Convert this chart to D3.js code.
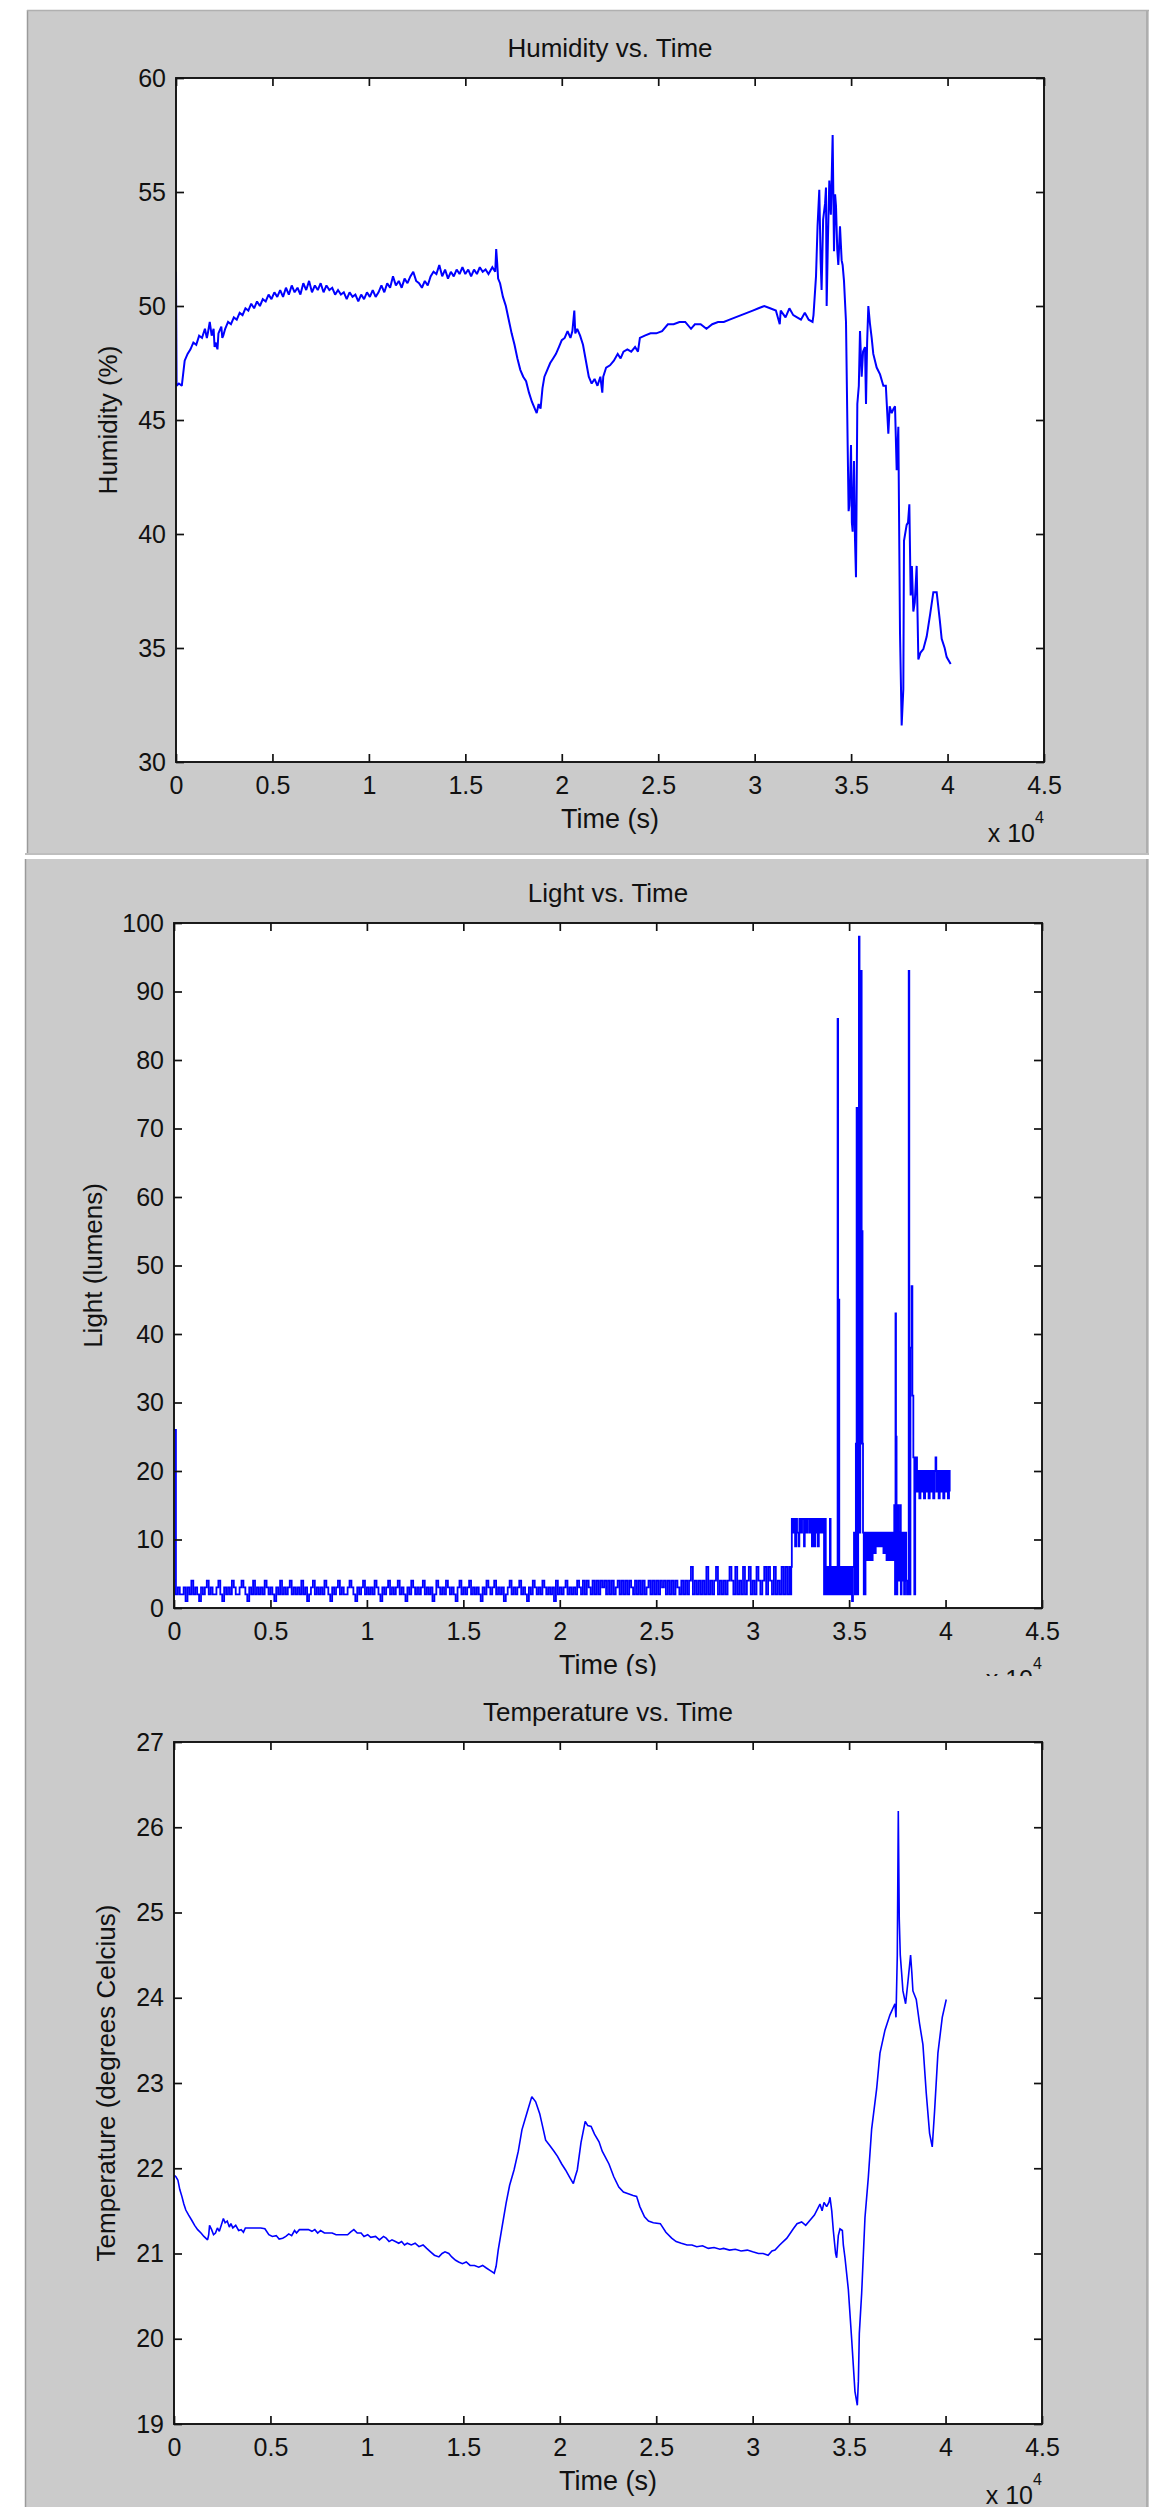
<!DOCTYPE html>
<html><head><meta charset="utf-8">
<script src="https://cdn.jsdelivr.net/npm/d3@7"></script>
<style>body{margin:0;background:#fff;} svg{display:block;}</style>
</head><body>
<svg id="c" width="1149" height="2507"></svg>
<script>
// ---------------- DATA ----------------
const xTickValues = [0,5000,10000,15000,20000,25000,30000,35000,40000,45000];
const xTickLabels = ["0","0.5","1","1.5","2","2.5","3","3.5","4","4.5"];
const humidityTicks = [30,35,40,45,50,55,60];
const lightTicks = [0,10,20,30,40,50,60,70,80,90,100];
const temperatureTicks = [19,20,21,22,23,24,25,26,27];
const titles = ["Humidity vs. Time","Light vs. Time","Temperature vs. Time"];
const yLabels = ["Humidity (%)","Light (lumens)","Temperature (degrees Celcius)"];
const xLabel = "Time (s)";

// humidity [time s, %]
const humidity = [[0,51.5],[30,46.5],[150,46.6],[300,46.5],[450,47.6],[600,47.9],[750,48.1],[900,48.4],[1050,48.3],[1200,48.7],[1350,48.6],[1500,49.0],[1600,48.6],[1650,48.8],[1750,49.3],[1850,48.7],[1950,49.0],[2000,48.2],[2050,48.4],[2150,48.1],[2200,48.8],[2250,48.9],[2350,49.1],[2400,48.6],[2450,48.7],[2550,49.0],[2700,49.3],[2850,49.2],[3000,49.5],[3150,49.4],[3300,49.7],[3450,49.6],[3600,49.9],[3750,49.8],[3900,50.1],[4050,49.9],[4200,50.2],[4350,50.0],[4500,50.3],[4650,50.2],[4800,50.5],[4950,50.3],[5100,50.6],[5250,50.4],[5400,50.7],[5550,50.4],[5700,50.8],[5850,50.5],[6000,50.9],[6150,50.6],[6300,50.8],[6450,50.5],[6600,51.0],[6750,50.7],[6900,51.1],[7050,50.6],[7200,50.9],[7350,50.7],[7500,51.0],[7650,50.6],[7800,50.9],[7950,50.7],[8100,50.8],[8250,50.5],[8400,50.7],[8550,50.5],[8700,50.6],[8850,50.3],[9000,50.6],[9150,50.4],[9300,50.5],[9450,50.2],[9600,50.5],[9750,50.3],[9900,50.6],[10050,50.4],[10200,50.7],[10350,50.4],[10500,50.6],[10650,50.9],[10800,50.6],[10950,51.0],[11100,50.8],[11250,51.3],[11400,50.9],[11550,51.1],[11700,50.8],[11850,51.2],[12000,51.0],[12150,51.3],[12300,51.5],[12450,51.1],[12600,51.0],[12750,50.8],[12900,51.1],[13050,50.9],[13200,51.3],[13350,51.5],[13500,51.4],[13650,51.8],[13800,51.3],[13950,51.6],[14100,51.2],[14250,51.5],[14400,51.3],[14550,51.6],[14700,51.4],[14850,51.7],[15000,51.4],[15150,51.6],[15300,51.3],[15450,51.6],[15600,51.4],[15750,51.7],[15900,51.5],[16050,51.6],[16200,51.4],[16400,51.7],[16550,51.5],[16600,52.5],[16650,51.9],[16700,51.2],[16800,51.0],[16950,50.4],[17100,50.0],[17250,49.4],[17400,48.8],[17550,48.3],[17700,47.7],[17850,47.2],[18000,46.9],[18150,46.7],[18300,46.2],[18450,45.8],[18600,45.5],[18700,45.3],[18800,45.7],[18900,45.5],[19000,46.4],[19100,46.9],[19250,47.2],[19400,47.5],[19550,47.7],[19700,47.9],[19850,48.2],[20000,48.5],[20150,48.6],[20300,48.9],[20450,48.6],[20550,48.9],[20650,49.8],[20700,48.8],[20800,49.0],[20950,48.7],[21100,48.3],[21250,47.6],[21400,46.9],[21550,46.6],[21700,46.8],[21850,46.5],[22000,46.9],[22100,46.2],[22150,46.9],[22300,47.3],[22500,47.4],[22700,47.6],[22900,47.9],[23050,47.7],[23200,48.0],[23400,48.1],[23600,48.0],[23800,48.2],[23950,48.0],[24050,48.6],[24300,48.7],[24600,48.8],[24900,48.8],[25200,48.9],[25500,49.2],[25800,49.2],[26100,49.3],[26400,49.3],[26700,49.0],[26900,49.2],[27200,49.2],[27500,49.0],[27800,49.2],[28100,49.3],[28400,49.3],[28700,49.4],[29000,49.5],[29300,49.6],[29600,49.7],[29900,49.8],[30200,49.9],[30500,50.0],[30800,49.9],[31100,49.8],[31300,49.2],[31350,49.8],[31600,49.5],[31800,49.9],[32000,49.6],[32200,49.5],[32400,49.4],[32600,49.7],[32800,49.4],[33000,49.3],[33050,49.6],[33180,51.3],[33260,53.5],[33350,55.1],[33420,52.0],[33470,50.7],[33550,53.8],[33650,54.5],[33697,55.2],[33732,50.0],[33800,53.0],[33870,55.5],[33950,54.0],[34043,57.5],[34113,52.4],[34170,54.9],[34216,54.4],[34280,52.5],[34337,51.8],[34424,53.5],[34510,52.0],[34560,51.8],[34631,51.1],[34735,49.3],[34821,43.9],[34870,41.0],[34908,41.25],[34950,42.3],[34994,43.9],[35040,40.5],[35080,40.1],[35149,43.2],[35200,39.8],[35253,38.1],[35322,45.7],[35400,46.5],[35461,48.9],[35547,46.9],[35620,48.0],[35720,48.2],[35772,45.7],[35830,48.4],[35893,50.0],[35980,49.2],[36066,48.6],[36150,47.9],[36325,47.3],[36500,47.0],[36671,46.5],[36800,46.5],[36930,44.4],[37000,45.6],[37103,45.3],[37200,45.5],[37276,45.6],[37362,42.8],[37448,44.7],[37535,35.65],[37621,31.6],[37707,33.2],[37742,39.7],[37880,40.4],[37950,40.5],[38019,41.3],[38088,37.3],[38150,38.6],[38226,36.6],[38300,37.0],[38399,38.6],[38486,34.5],[38600,34.8],[38745,34.95],[38918,35.5],[39100,36.5],[39263,37.45],[39436,37.45],[39600,36.2],[39695,35.4],[39850,35.0],[39955,34.6],[40162,34.3]];

// light: early record sampled every lightEarlyStep seconds starting at t = 0
const lightEarlyStep = 100;
const lightEarly = [26,
2,3,2,2,3,1,3,2,4,2, 3,2,1,3,2,3,4,2,3,2, 2,3,4,2,1,3,2,3,2,4, 3,2,2,3,4,3,2,1,3,2,
4,2,3,2,3,2,4,3,2,3, 2,1,3,2,4,2,3,2,3,4, 2,3,2,3,2,4,2,3,1,2, 3,4,2,3,2,3,2,4,3,2,
1,3,2,3,4,2,3,2,2,3, 4,3,2,1,3,2,3,4,2,3, 2,3,2,4,3,2,1,3,2,3, 4,2,3,2,3,4,2,3,2,1,
3,2,4,3,2,3,2,3,4,2, 3,2,3,1,2,4,3,2,3,2, 4,3,2,3,2,1,3,4,2,3, 2,3,4,2,3,2,3,2,1,3,
2,4,3,2,3,4,2,3,2,3, 1,2,3,4,2,3,2,3,4,2, 3,2,1,3,2,4,3,2,3,2, 4,3,2,3,2,3,1,4,2,3,
2,3,4,2,3,2,3,2,4,3,
2,4,2,4,3,2,4,2,4,2, 4,3,4,2,4,2,4,2,3,4, 2,4,2,4,2,4,3,2,4,2, 4,2,4,2,3,4,2,4,2,4,
2,4,3,4,2,4,2,4,2,4, 3,2,4,2,4,
2,4,6,2,4,2,4,2,4,2, 6,2,4,2,4,6,2,4,2,4, 2,4,6,4,2,6,2,4,2,6, 2,4,6,2,4,2,6,4,2,4,
6,2,6,4,2,6,2,4,
2,6,2,6,2,6];
// light: later record [time s, lumens]
const lightLate = [[31950,2],[32000,6],[32030,13],[32100,11],[32180,13],[32200,9],[32260,13],[32300,11],[32380,9],[32420,13],[32500,11],[32560,13],[32660,9],[32700,13],[32760,11],[32850,13],[32950,11],[33020,13],[33070,9],[33130,13],[33180,9],[33250,13],[33300,11],[33340,13],[33380,9],[33430,11],[33470,13],[33550,11],[33620,13],[33680,13],[33700,2],[33760,13],[33790,2],[33850,6],[33900,2],[33960,6],[34004,13],[34040,2],[34100,6],[34165,2],[34230,6],[34300,2],[34350,6],[34403,86],[34430,2],[34460,45],[34490,2],[34550,6],[34620,2],[34700,6],[34780,2],[34850,6],[34920,2],[34990,6],[35060,2],[35120,6],[35150,1],[35200,6],[35253,11],[35300,2],[35350,24],[35390,73],[35430,2],[35470,55],[35508,98],[35540,11],[35580,24],[35617,93],[35650,55],[35695,24],[35720,11],[35760,2],[35800,2],[35850,11],[35900,7],[35960,11],[36020,7],[36080,11],[36150,7],[36220,11],[36300,8],[36380,11],[36460,9],[36540,11],[36620,9],[36700,11],[36780,8],[36860,11],[36940,7],[37020,11],[37100,7],[37180,11],[37250,7],[37300,11],[37340,15],[37380,2],[37405,43],[37430,25],[37460,2],[37500,15],[37540,4],[37600,11],[37635,15],[37680,2],[37720,11],[37760,4],[37800,11],[37850,2],[37900,11],[37960,4],[38000,2],[38090,93],[38120,2],[38180,38],[38240,47],[38280,31],[38330,22],[38380,2],[38427,20],[38470,22],[38520,17],[38580,20],[38640,16],[38700,20],[38760,17],[38820,20],[38880,16],[38940,20],[39000,17],[39060,20],[39120,16],[39180,20],[39240,17],[39300,20],[39360,16],[39420,20],[39480,22],[39520,17],[39580,20],[39640,16],[39700,20],[39760,17],[39820,20],[39880,16],[39940,20],[40000,17],[40060,20],[40120,16],[40180,20],[40215,17]];

// temperature [time s, degrees C]
const temperature = [[0,21.92],[100,21.9],[203,21.86],[300,21.75],[408,21.67],[510,21.58],[612,21.51],[760,21.45],[920,21.39],[1070,21.33],[1227,21.28],[1400,21.24],[1550,21.2],[1740,21.16],[1800,21.22],[1843,21.33],[1950,21.28],[2050,21.22],[2150,21.24],[2250,21.3],[2350,21.26],[2450,21.33],[2560,21.41],[2650,21.36],[2760,21.38],[2868,21.31],[2950,21.35],[3050,21.3],[3200,21.33],[3350,21.27],[3483,21.28],[3600,21.25],[3700,21.3],[3893,21.3],[4100,21.3],[4300,21.3],[4500,21.3],[4712,21.29],[4917,21.22],[5100,21.2],[5300,21.21],[5450,21.17],[5635,21.18],[5800,21.2],[5950,21.23],[6100,21.21],[6250,21.27],[6352,21.24],[6500,21.28],[6700,21.28],[6967,21.28],[7150,21.26],[7300,21.28],[7450,21.24],[7600,21.27],[7800,21.24],[7992,21.24],[8200,21.24],[8402,21.22],[8600,21.22],[8800,21.22],[9000,21.22],[9150,21.25],[9324,21.28],[9500,21.24],[9700,21.24],[9850,21.2],[10043,21.22],[10200,21.19],[10450,21.2],[10650,21.16],[10863,21.2],[11000,21.18],[11150,21.14],[11300,21.16],[11478,21.14],[11650,21.12],[11800,21.14],[11950,21.1],[12093,21.12],[12300,21.1],[12500,21.12],[12700,21.08],[12913,21.1],[13100,21.06],[13300,21.02],[13500,20.98],[13733,20.96],[13900,21.0],[14050,21.02],[14245,21.0],[14400,20.96],[14600,20.92],[14758,20.9],[14950,20.88],[15150,20.9],[15350,20.86],[15578,20.86],[15800,20.84],[16000,20.86],[16193,20.83],[16400,20.8],[16603,20.77],[16700,20.85],[16808,21.04],[17000,21.3],[17218,21.59],[17400,21.8],[17628,21.98],[17850,22.2],[18038,22.45],[18300,22.65],[18550,22.84],[18750,22.78],[18960,22.64],[19100,22.5],[19268,22.33],[19500,22.26],[19700,22.2],[19883,22.14],[20100,22.05],[20300,21.98],[20500,21.9],[20703,21.82],[20800,21.9],[20908,21.98],[21100,22.3],[21318,22.55],[21450,22.5],[21625,22.49],[21800,22.4],[22035,22.31],[22200,22.2],[22343,22.14],[22550,22.05],[22800,21.9],[23060,21.78],[23300,21.72],[23550,21.7],[23800,21.68],[23983,21.67],[24150,21.55],[24393,21.43],[24600,21.38],[24850,21.36],[25213,21.35],[25500,21.25],[25800,21.18],[26033,21.14],[26300,21.12],[26600,21.1],[26853,21.1],[27100,21.08],[27400,21.09],[27700,21.06],[28000,21.07],[28300,21.05],[28493,21.06],[28800,21.04],[29100,21.05],[29400,21.03],[29723,21.04],[30000,21.02],[30300,21.0],[30543,21.0],[30800,20.98],[31000,21.03],[31158,21.04],[31400,21.1],[31773,21.18],[32108,21.29],[32300,21.35],[32540,21.37],[32750,21.33],[32972,21.39],[33200,21.45],[33490,21.58],[33600,21.5],[33700,21.6],[33836,21.55],[33950,21.6],[34009,21.66],[34100,21.5],[34181,21.27],[34300,21.0],[34354,20.95],[34440,21.21],[34527,21.29],[34650,21.27],[34700,21.1],[34786,20.95],[34959,20.58],[35131,20.0],[35304,19.38],[35425,19.22],[35480,19.5],[35529,20.06],[35650,20.53],[35822,21.42],[35995,21.89],[36168,22.46],[36427,22.93],[36600,23.35],[36859,23.62],[37118,23.8],[37377,23.93],[37430,23.77],[37498,24.5],[37550,26.19],[37600,24.92],[37653,24.5],[37720,24.3],[37790,24.08],[37929,23.93],[38050,24.19],[38187,24.5],[38250,24.3],[38308,24.08],[38481,23.98],[38650,23.7],[38827,23.45],[39000,22.88],[39172,22.41],[39310,22.25],[39431,22.67],[39604,23.35],[39829,23.77],[40036,23.98]];

// ---------------- DRAWING ----------------
const light = lightEarly.map((v,i)=>[i*lightEarlyStep, v]).concat(lightLate);
const svg = d3.select("#c");
const FONT = "'Liberation Sans', Arial, Helvetica, sans-serif";
const GRAY = "#cbcbcb";
const INK = "#111";

const panels = [
  {data: humidity, domain:[30,60], ticks: humidityTicks, bg:[27,10,853], plot:[176,1044,78,762], ylx:108, sw:2.0, curve:d3.curveLinear},
  {data: light, domain:[0,100], ticks: lightTicks, bg:[25,859,1676], plot:[174,1042,923,1608], ylx:93, sw:1.8, curve:d3.curveStepAfter},
  {data: temperature, domain:[19,27], ticks: temperatureTicks, bg:[25,1676,2507], plot:[174,1042,1742,2424], ylx:106, sw:1.6, curve:d3.curveLinear}
];

svg.append("rect").attr("width",1149).attr("height",2507).attr("fill","#fff");

panels.forEach((p,i)=>{
  const [bx, by0, by1] = p.bg;
  const [px0, px1, py0, py1] = p.plot;
  const g = svg.append("g");
  g.append("rect").attr("x",bx).attr("y",by0).attr("width",1149-bx).attr("height",by1-by0).attr("fill",GRAY);
  g.append("line").attr("x1",bx+0.5).attr("x2",bx+0.5).attr("y1",by0).attr("y2",by1).attr("stroke","#9a9a9a").attr("stroke-width",1.5);
  g.append("line").attr("x1",1147).attr("x2",1147).attr("y1",by0).attr("y2",by1).attr("stroke","#a5a5a5").attr("stroke-width",1.5);
  if(i===0){
    g.append("line").attr("x1",bx).attr("x2",1149).attr("y1",by0+0.5).attr("y2",by0+0.5).attr("stroke","#b0b0b0").attr("stroke-width",1.5);
  }
  if(i===1){
    g.append("line").attr("x1",bx).attr("x2",1149).attr("y1",by0-5).attr("y2",by0-5).attr("stroke","#a8a8a8").attr("stroke-width",1.5);
  }

  const x = d3.scaleLinear().domain([0,45000]).range([px0,px1]);
  const y = d3.scaleLinear().domain(p.domain).range([py1,py0]);

  g.append("rect").attr("x",px0).attr("y",py0).attr("width",px1-px0).attr("height",py1-py0).attr("fill","#fff");

  const clipId = "clip"+i;
  g.append("clipPath").attr("id",clipId).append("rect")
    .attr("x",px0).attr("y",py0).attr("width",px1-px0).attr("height",py1-py0);

  g.append("path").datum(p.data)
    .attr("clip-path",`url(#${clipId})`)
    .attr("fill","none").attr("stroke","#0000ff").attr("stroke-width",p.sw)
    .attr("stroke-linejoin","miter").attr("stroke-miterlimit",2)
    .attr("d", d3.line().curve(p.curve).x(d=>x(d[0])).y(d=>y(d[1])));

  const fmt = (d)=> xTickLabels[xTickValues.indexOf(d)];
  const axB = g.append("g").attr("transform",`translate(0,${py1})`)
    .call(d3.axisBottom(x).tickValues(xTickValues).tickFormat(fmt).tickSize(-8).tickSizeOuter(0).tickPadding(14));
  const axT = g.append("g").attr("transform",`translate(0,${py0})`)
    .call(d3.axisTop(x).tickValues(xTickValues).tickFormat("").tickSize(-8).tickSizeOuter(0));
  const axL = g.append("g").attr("transform",`translate(${px0},0)`)
    .call(d3.axisLeft(y).tickValues(p.ticks).tickFormat(d3.format("d")).tickSize(-8).tickSizeOuter(0).tickPadding(10));
  const axR = g.append("g").attr("transform",`translate(${px1},0)`)
    .call(d3.axisRight(y).tickValues(p.ticks).tickFormat("").tickSize(-8).tickSizeOuter(0));
  [axB,axT,axL,axR].forEach(a=>{
    a.select(".domain").remove();
    a.selectAll("line").attr("stroke",INK).attr("stroke-width",1.7);
    a.selectAll("text").attr("fill",INK).style("font-family",FONT).style("font-size","25px");
  });

  g.append("rect").attr("x",px0).attr("y",py0).attr("width",px1-px0).attr("height",py1-py0)
    .attr("fill","none").attr("stroke",INK).attr("stroke-width",1.9);

  const cx = (px0+px1)/2;
  g.append("text").attr("x",cx).attr("y",py0-21).attr("text-anchor","middle")
    .style("font-family",FONT).style("font-size","26px").attr("fill",INK).text(titles[i]);
  g.append("text").attr("x",cx).attr("y",py1+66).attr("text-anchor","middle")
    .style("font-family",FONT).style("font-size","27px").attr("fill",INK).text(xLabel);
  g.append("text").attr("transform",`translate(${p.ylx},${(py0+py1)/2}) rotate(-90)`)
    .attr("text-anchor","middle").attr("dy","0.35em")
    .style("font-family",FONT).style("font-size","26px").attr("fill",INK).text(yLabels[i]);
  g.append("text").attr("x",px1-9).attr("y",py1+80).attr("text-anchor","end")
    .style("font-family",FONT).style("font-size","25px").attr("fill",INK).text("x 10");
  g.append("text").attr("x",px1-9).attr("y",py1+61).attr("text-anchor","start")
    .style("font-family",FONT).style("font-size","16px").attr("fill",INK).text("4");
});
</script>
</body></html>
